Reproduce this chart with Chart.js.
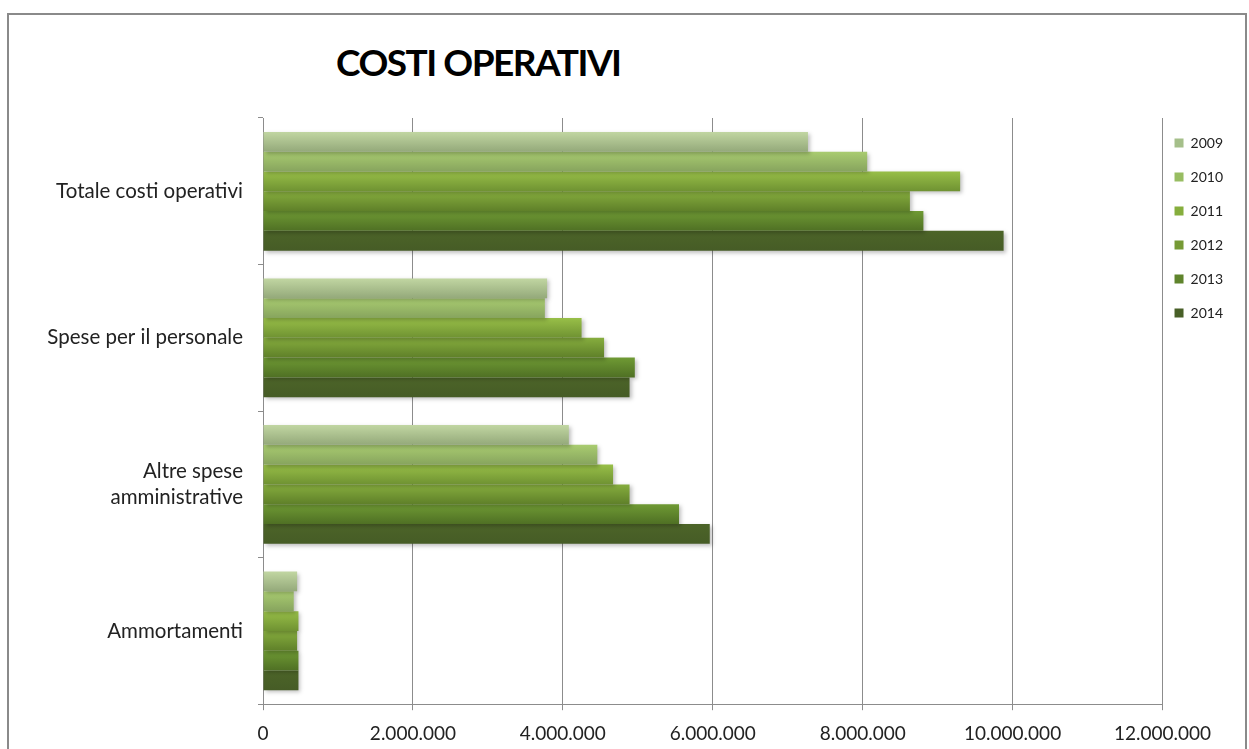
<!DOCTYPE html>
<html>
<head>
<meta charset="utf-8">
<script src="https://cdn.jsdelivr.net/npm/chart.js@4.4.0/dist/chart.umd.min.js"></script>
<style>
html, body { margin: 0; padding: 0; background: #fff; }
#wrap { position: relative; width: 1249px; height: 749px; overflow: hidden; background: #fff; }
#frame { position: absolute; left: 7px; top: 13px; width: 1240px; height: 800px; border: 2px solid #8a8a8a; box-sizing: border-box; }
#title { position: absolute; left: 336px; top: 43px; font: bold 37px Lato, sans-serif; line-height: 37px; letter-spacing: -1.5px; color: #000; }
#chart { position: absolute; left: 0; top: 0; }
</style>
</head>
<body>
<div id="wrap">
  <div id="frame"></div>
  <div id="title">COSTI OPERATIVI</div>
  <canvas id="chart" width="1249" height="762"></canvas>
</div>
<script>
// categories and series (values in euro)
const categories = ['Totale costi operativi', 'Spese per il personale', ['Altre spese', 'amministrative'], 'Ammortamenti'];
const years = ['2009', '2010', '2011', '2012', '2013', '2014'];
const v2009 = [7270000, 3790000, 4080000, 455000];
const v2010 = [8060000, 3760000, 4460000, 410000];
const v2011 = [9300000, 4250000, 4670000, 473000];
const v2012 = [8630000, 4550000, 4890000, 455000];
const v2013 = [8810000, 4960000, 5550000, 473000];
const v2014 = [9880000, 4890000, 5960000, 473000];
const xTicks = [0, 2000000, 4000000, 6000000, 8000000, 10000000, 12000000];

// bar colours: top / bottom of the gradient, plus flat legend swatch
const topColors = ['#c1d6a2', '#a9cc70', '#98bf48', '#86ad3e', '#6f9a34', '#4c6428'];
const bottomColors = ['#94a97a', '#87a45e', '#6f9232', '#5f8029', '#4f7024', '#465c26'];
const legendColors = ['#a5bf8a', '#98bd62', '#86ae3d', '#769a35', '#5f842c', '#485f27'];

const CAT_PCT = 0.81;
const series = [v2009, v2010, v2011, v2012, v2013, v2014];

function fmt(v) {
    return String(v).replace(/\B(?=(\d{3})+(?!\d))/g, '.');
}

// vertical gradient per bar, worked out from the y scale
function barFill(ctx) {
    const i = ctx.datasetIndex;
    const chart = ctx.chart;
    const y = chart.scales.y;
    if (!y || ctx.type !== 'data' || !y.height) return legendColors[i];
    const catH = y.height / categories.length;
    const groupH = catH * CAT_PCT;
    const barH = groupH / years.length;
    const top = y.getPixelForValue(ctx.dataIndex) - groupH / 2 + i * barH;
    const g = chart.ctx.createLinearGradient(0, top, 0, top + barH);
    g.addColorStop(0, topColors[i]);
    g.addColorStop(1, bottomColors[i]);
    return g;
}

// soft shadow under the bars
const barShadow = {
    id: 'barShadow',
    beforeDatasetsDraw(chart) {
        const c = chart.ctx;
        c.save();
        c.shadowColor = 'rgba(0,0,0,0.25)';
        c.shadowBlur = 4;
        c.shadowOffsetX = 2;
        c.shadowOffsetY = 2;
    },
    afterDatasetsDraw(chart) {
        chart.ctx.restore();
    }
};

// nudge the legend a bit closer to the plot, like the original
const legendNudge = {
    id: 'legendNudge',
    afterLayout(chart) {
        const lg = chart.legend;
        if (!lg) return;
        lg.left -= 8; lg.right -= 8;
        lg.top -= 2; lg.bottom -= 2;
    }
};

new Chart(document.getElementById('chart'), {
    type: 'bar',
    data: {
        labels: categories,
        datasets: years.map((yr, i) => ({
            label: yr,
            data: series[i],
            backgroundColor: barFill,
            borderWidth: 0,
            categoryPercentage: CAT_PCT,
            barPercentage: 1
        }))
    },
    options: {
        indexAxis: 'y',
        responsive: false,
        animation: false,
        layout: { padding: { top: 118, bottom: 5, left: 0, right: 8 } },
        plugins: {
            title: { display: false },
            tooltip: { enabled: false },
            legend: {
                position: 'right',
                align: 'start',
                labels: {
                    boxWidth: 9,
                    boxHeight: 9,
                    padding: 20,
                    color: '#222',
                    font: { family: 'Lato', size: 14 },
                    generateLabels: chart => chart.data.datasets.map((ds, i) => ({
                        text: ds.label,
                        fillStyle: legendColors[i],
                        strokeStyle: legendColors[i],
                        lineWidth: 0,
                        hidden: false,
                        datasetIndex: i,
                        fontColor: '#222'
                    }))
                }
            }
        },
        scales: {
            x: {
                min: 0,
                max: 12000000,
                afterBuildTicks: scale => { scale.ticks = xTicks.map(v => ({ value: v })); },
                grid: { color: '#8c8c8c', lineWidth: 1, tickLength: 6 },
                border: { color: '#8c8c8c', width: 1 },
                ticks: {
                    color: '#222',
                    padding: 12,
                    font: { family: 'Lato', size: 19 },
                    callback: v => fmt(v)
                }
            },
            y: {
                afterFit: scale => { scale.width = 263; },
                grid: { drawOnChartArea: false, color: '#8c8c8c', tickLength: 5, offset: true },
                border: { color: '#8c8c8c', width: 1 },
                ticks: {
                    color: '#222',
                    padding: 15,
                    font: { family: 'Lato', size: 20.5, lineHeight: 1.3 }
                }
            }
        }
    },
    plugins: [barShadow, legendNudge]
});
</script>
</body>
</html>
